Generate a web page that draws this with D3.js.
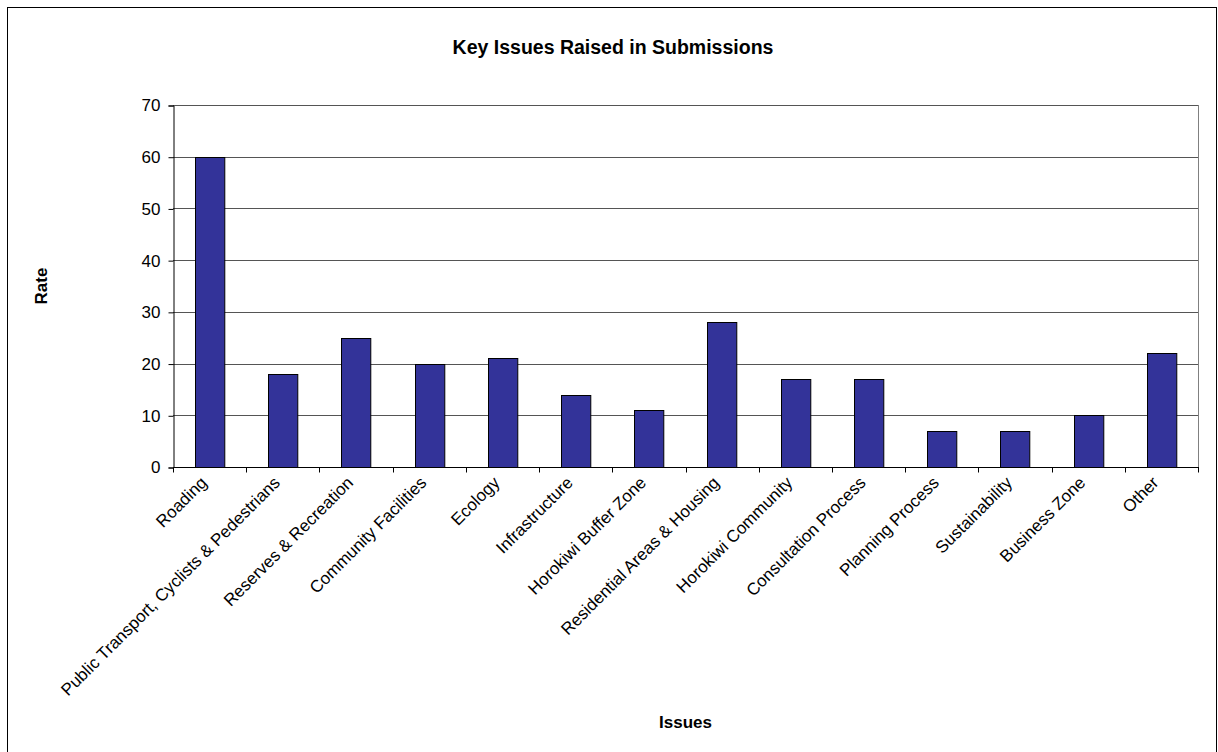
<!DOCTYPE html>
<html>
<head>
<meta charset="utf-8">
<script src="https://cdn.jsdelivr.net/npm/d3@7"></script>
<style>
  html, body { margin: 0; padding: 0; background: #fff; }
  svg { display: block; font-family: Arial, "Liberation Sans", sans-serif; }
</style>
</head>
<body>
<svg id="chart" width="1218" height="752"></svg>
<script>
// Issues raised in submissions and how often each came up
const categories = [
  "Roading",
  "Public Transport, Cyclists & Pedestrians",
  "Reserves & Recreation",
  "Community Facilities",
  "Ecology",
  "Infrastructure",
  "Horokiwi Buffer Zone",
  "Residential Areas & Housing",
  "Horokiwi Community",
  "Consultation Process",
  "Planning Process",
  "Sustainability",
  "Business Zone",
  "Other"
];
const rates = [60, 18, 25, 20, 21, 14, 11, 28, 17, 17, 7, 7, 10, 22];
const yTicks = [0, 10, 20, 30, 40, 50, 60, 70];

const svg = d3.select("#chart");
const plot = { left: 173, right: 1198, top: 105, bottom: 467 };
const labelSize = 17;

// chart frame
svg.append("rect")
  .attr("x", 7.5).attr("y", 7.5)
  .attr("width", 1209).attr("height", 760)
  .attr("fill", "#fff")
  .attr("stroke", "#000").attr("stroke-width", 1);

const x = d3.scaleBand()
  .domain(categories)
  .range([plot.left, plot.right])
  .paddingInner(0.6)
  .paddingOuter(0.3);

const y = d3.scaleLinear()
  .domain([0, 70])
  .range([plot.bottom, plot.top]);

// horizontal gridlines
svg.append("g")
  .selectAll("line")
  .data(yTicks.filter(d => d > 0))
  .join("line")
  .attr("x1", plot.left).attr("x2", plot.right)
  .attr("y1", d => Math.round(y(d)) + 0.5)
  .attr("y2", d => Math.round(y(d)) + 0.5)
  .attr("stroke", "#555").attr("stroke-width", 1);

// right edge of the plot area
svg.append("line")
  .attr("x1", plot.right + 0.5).attr("x2", plot.right + 0.5)
  .attr("y1", plot.top).attr("y2", plot.bottom)
  .attr("stroke", "#808080");

// bars
svg.append("g")
  .selectAll("rect")
  .data(rates)
  .join("rect")
  .attr("x", (d, i) => Math.round(x(categories[i])) + 0.5)
  .attr("y", d => Math.round(y(d)) + 0.5)
  .attr("width", x.bandwidth())
  .attr("height", d => Math.round(y(0)) - Math.round(y(d)))
  .attr("fill", "#333399")
  .attr("stroke", "#000").attr("stroke-width", 1);

// y axis
const yAxis = svg.append("g")
  .attr("transform", `translate(${plot.left + 0.5},0.5)`)
  .call(d3.axisLeft(y).tickValues(yTicks).tickSize(5).tickPadding(8).tickFormat(d3.format("d")));
yAxis.select(".domain").attr("stroke", "#000");
yAxis.selectAll(".tick line").attr("stroke", "#000");
yAxis.selectAll(".tick text")
  .attr("font-size", labelSize).attr("fill", "#000")
  .attr("font-family", "Arial, 'Liberation Sans', sans-serif");

// x axis with ticks at category boundaries
const xAxisG = svg.append("g").attr("transform", `translate(0,${plot.bottom + 0.5})`);
xAxisG.append("line")
  .attr("x1", plot.left).attr("x2", plot.right + 1)
  .attr("y1", 0).attr("y2", 0)
  .attr("stroke", "#000");
const step = x.step();
const bounds = d3.range(categories.length + 1).map(i => plot.left + i * step);
xAxisG.selectAll("line.tk")
  .data(bounds)
  .join("line")
  .attr("class", "tk")
  .attr("x1", d => Math.round(d) + 0.5).attr("x2", d => Math.round(d) + 0.5)
  .attr("y1", 0).attr("y2", 5)
  .attr("stroke", "#000");

// rotated category labels
xAxisG.selectAll("text")
  .data(categories)
  .join("text")
  .attr("transform", d => `translate(${x(d) + x.bandwidth() / 2 - 6},${12}) rotate(-45)`)
  .attr("text-anchor", "end")
  .attr("dy", "0.35em")
  .attr("font-size", labelSize)
  .attr("fill", "#000")
  .text(d => d);

// title and axis titles
svg.append("text")
  .attr("x", 613).attr("y", 54)
  .attr("text-anchor", "middle")
  .attr("font-size", 19.5).attr("font-weight", "bold")
  .text("Key Issues Raised in Submissions");

svg.append("text")
  .attr("transform", `translate(47,${(plot.top + plot.bottom) / 2}) rotate(-90)`)
  .attr("text-anchor", "middle")
  .attr("font-size", labelSize).attr("font-weight", "bold")
  .text("Rate");

svg.append("text")
  .attr("x", (plot.left + plot.right) / 2).attr("y", 728)
  .attr("text-anchor", "middle")
  .attr("font-size", labelSize).attr("font-weight", "bold")
  .text("Issues");
</script>
</body>
</html>
